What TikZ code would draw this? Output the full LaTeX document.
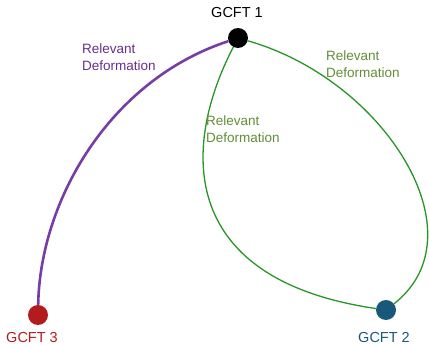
\documentclass[tikz,border=0pt]{standalone}
\usepackage{fontspec}
\setmainfont{Liberation Sans}
\usetikzlibrary{positioning}
\definecolor{flowpurple}{RGB}{118,62,165}
\definecolor{textpurple}{RGB}{104,46,138}
\definecolor{flowgreen}{RGB}{38,150,38}
\definecolor{textgreen}{RGB}{100,140,55}
\definecolor{fixred}{RGB}{178,28,28}
\definecolor{fixblue}{RGB}{25,88,120}
\tikzset{
  dot/.style={circle,minimum size=20pt,inner sep=0pt},
  gcft/.style={font=\fontsize{14.5}{17}\selectfont,inner sep=0pt},
  deform/.style={align=left,anchor=west,inner sep=0pt,font=\fontsize{13.5}{17}\selectfont},
  mythick/.style={line width=2.6pt},
  mythin/.style={line width=1.3pt}
}
\begin{document}
\begin{tikzpicture}[x=1pt,y=-1pt]
    \useasboundingbox (0,0) rectangle (429,345);
    % fixed points
    \node at (238, 38) [dot, fill=black] (g1) {};
    \node at (386, 310) [dot, fill=fixblue] (g2) {};
    \node at (38, 315) [dot, fill=fixred] (g3) {};
    \node at (237, 12.5) [gcft] (g1lbl) {GCFT 1};
    \node at (384, 338) [gcft, text=fixblue] (g2lbl) {GCFT 2};
    \node at (32, 338) [gcft, text=fixred] (g3lbl) {GCFT 3};

    % flows
    \draw[mythick, flowpurple] (g3) .. controls (40,200) and (110,80) .. (g1);
    \draw[mythin, flowgreen] (g1) .. controls (180,150) and (180,280) .. (g2);
    \draw[mythin, flowgreen] (g1) .. controls (385,80) and (482,235) .. (g2);

    \node at (82, 57.5) [deform, text=textpurple] (d31) {Relevant\\Deformation};
    \node at (206, 129) [deform, text=textgreen] (d21) {Relevant\\Deformation};
    \node at (326, 64) [deform, text=textgreen] (d12) {Relevant\\Deformation};
\end{tikzpicture}
\end{document}
